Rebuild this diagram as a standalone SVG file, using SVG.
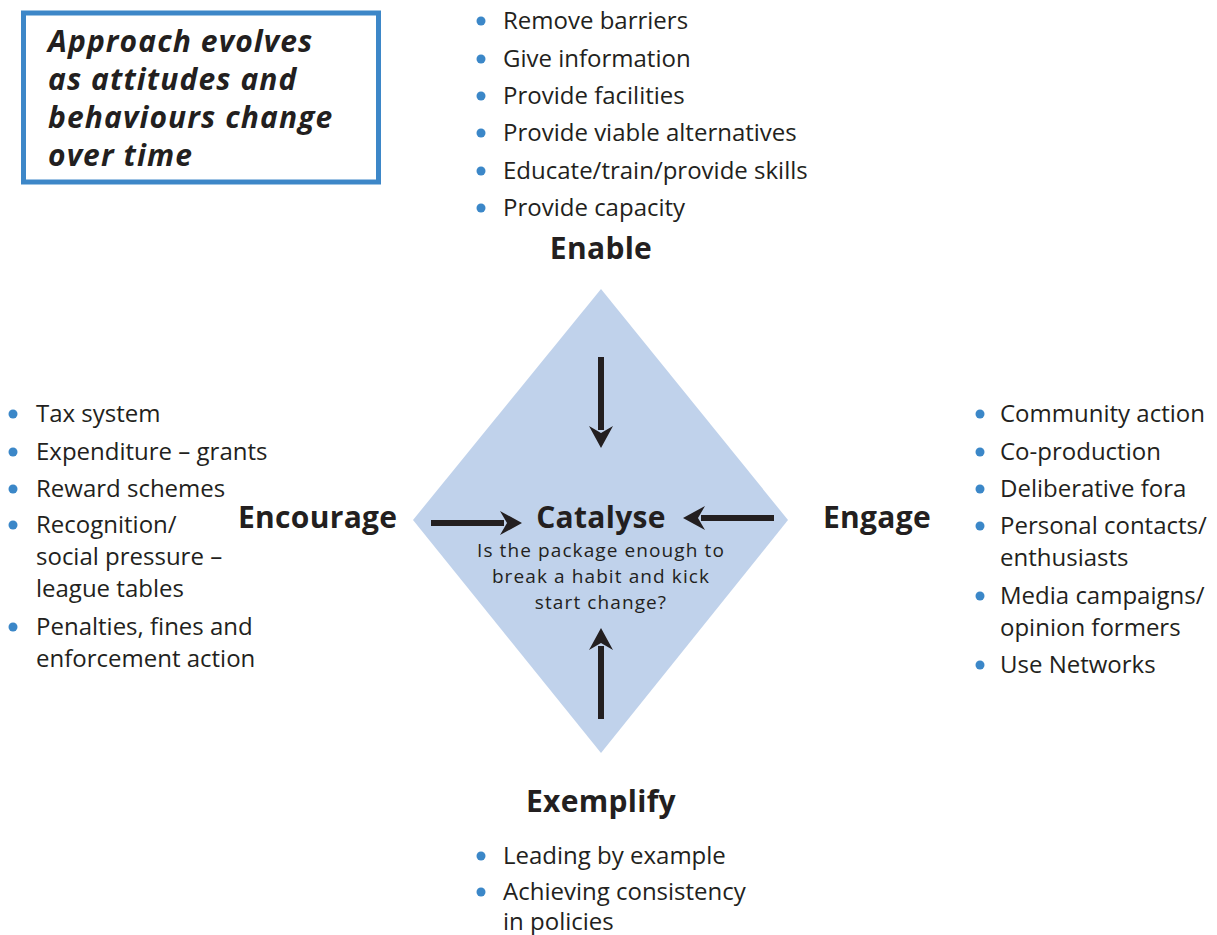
<svg xmlns="http://www.w3.org/2000/svg" width="1217" height="935" viewBox="0 0 1217 935">
<defs>
<style>
text{font-family:"Open Sans","Noto Sans","DejaVu Sans",sans-serif;fill:#231f20}
.li{font-size:24px}
.hd{font-size:30px;font-weight:bold;letter-spacing:0.3px}
.q{font-size:19px;letter-spacing:1.1px}
.bx{font-size:30px;font-weight:bold;font-style:italic;letter-spacing:1.1px}
.b{fill:#3b87c8}
.ar{stroke:#231f20;stroke-width:6;fill:none}
.ah{fill:#231f20}
</style>
</defs>
<rect width="1217" height="935" fill="#ffffff"/>
<g id="note">
<rect x="23.5" y="13" width="355" height="169" fill="#ffffff" stroke="#3d87c8" stroke-width="5"/>
<text class="bx" x="48" y="52">Approach evolves</text>
<text class="bx" x="48" y="90">as attitudes and</text>
<text class="bx" x="48" y="128">behaviours change</text>
<text class="bx" x="48" y="166">over time</text>
</g>
<g id="catalyse">
<polygon points="601,289 788,520 601,753 413,520" fill="#c0d2eb"/>
<text class="hd" x="601" y="528" text-anchor="middle">Catalyse</text>
<text class="q" x="601" y="557" text-anchor="middle">Is the package enough to</text>
<text class="q" x="601" y="583" text-anchor="middle">break a habit and kick</text>
<text class="q" x="601" y="609" text-anchor="middle">start change?</text>
</g>
<g id="connectors">
<line class="ar" x1="601" y1="357" x2="601" y2="430"/>
<polygon class="ah" points="601,448 589,426 601,433 613,426"/>
<line class="ar" x1="601" y1="719" x2="601" y2="646"/>
<polygon class="ah" points="601,628 589,650 601,643 613,650"/>
<line class="ar" x1="431" y1="523" x2="504" y2="523"/>
<polygon class="ah" points="522,523 500,511 507,523 500,535"/>
<line class="ar" x1="774" y1="518" x2="701" y2="518"/>
<polygon class="ah" points="683,518 705,506 698,518 705,530"/>
</g>
<g id="enable">
<text class="hd" x="601" y="259" text-anchor="middle">Enable</text>
<circle class="b" cx="481" cy="21" r="4.5"/><text class="li" x="503" y="29">Remove barriers</text>
<circle class="b" cx="481" cy="59" r="4.5"/><text class="li" x="503" y="67">Give information</text>
<circle class="b" cx="481" cy="96" r="4.5"/><text class="li" x="503" y="104">Provide facilities</text>
<circle class="b" cx="481" cy="133" r="4.5"/><text class="li" x="503" y="141">Provide viable alternatives</text>
<circle class="b" cx="481" cy="171" r="4.5"/><text class="li" x="503" y="179">Educate/train/provide skills</text>
<circle class="b" cx="481" cy="208" r="4.5"/><text class="li" x="503" y="216">Provide capacity</text>
</g>
<g id="encourage">
<text class="hd" x="238" y="528">Encourage</text>
<circle class="b" cx="13" cy="414" r="4.5"/><text class="li" x="36" y="422">Tax system</text>
<circle class="b" cx="13" cy="452" r="4.5"/><text class="li" x="36" y="460">Expenditure – grants</text>
<circle class="b" cx="13" cy="489" r="4.5"/><text class="li" x="36" y="497">Reward schemes</text>
<circle class="b" cx="13" cy="525" r="4.5"/><text class="li" x="36" y="533">Recognition/</text>
<text class="li" x="36" y="565">social pressure –</text>
<text class="li" x="36" y="597">league tables</text>
<circle class="b" cx="13" cy="627" r="4.5"/><text class="li" x="36" y="635">Penalties, fines and</text>
<text class="li" x="36" y="667">enforcement action</text>
</g>
<g id="engage">
<text class="hd" x="823" y="528">Engage</text>
<circle class="b" cx="980" cy="414" r="4.5"/><text class="li" x="1000" y="422">Community action</text>
<circle class="b" cx="980" cy="452" r="4.5"/><text class="li" x="1000" y="460">Co-production</text>
<circle class="b" cx="980" cy="489" r="4.5"/><text class="li" x="1000" y="497">Deliberative fora</text>
<circle class="b" cx="980" cy="526" r="4.5"/><text class="li" x="1000" y="534">Personal contacts/</text>
<text class="li" x="1000" y="566">enthusiasts</text>
<circle class="b" cx="980" cy="596" r="4.5"/><text class="li" x="1000" y="604">Media campaigns/</text>
<text class="li" x="1000" y="636">opinion formers</text>
<circle class="b" cx="980" cy="665" r="4.5"/><text class="li" x="1000" y="673">Use Networks</text>
</g>
<g id="exemplify">
<text class="hd" x="601" y="812" text-anchor="middle">Exemplify</text>
<circle class="b" cx="481" cy="856" r="4.5"/><text class="li" x="503" y="864">Leading by example</text>
<circle class="b" cx="481" cy="892" r="4.5"/><text class="li" x="503" y="900">Achieving consistency</text>
<text class="li" x="503" y="930">in policies</text>
</g>
</svg>
